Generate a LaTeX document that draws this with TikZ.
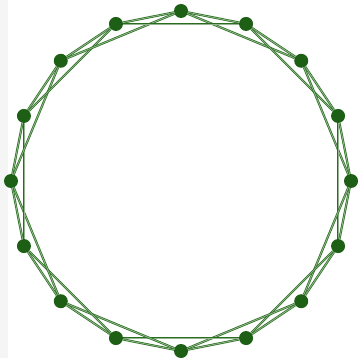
\documentclass[tikz,border=0pt]{standalone}
\definecolor{ndgreen}{RGB}{30,95,22}
\definecolor{edgreen}{RGB}{40,110,30}
\begin{document}
\begin{tikzpicture}[x=1pt,y=-1pt,
  vtx/.style={circle,fill=ndgreen,draw=none,inner sep=0pt,minimum size=14pt},
  edg/.style={draw=edgreen,line width=0.7pt,double=edgreen!50!white,double distance=0.8pt}]
\fill[white] (0,0) rectangle (358,358);
\fill[black!4] (0,0) rectangle (8,358);
\useasboundingbox (0,0) rectangle (358,358);
\foreach \i in {0,...,15}{
  \node[vtx] (v\i) at ({181+170*sin(22.5*\i)},{181-170*cos(22.5*\i)}) {};
}
\foreach \i in {0,...,15}{
  \pgfmathtruncatemacro{\j}{mod(\i+1,16)}
  \pgfmathtruncatemacro{\k}{mod(\i+2,16)}
  \draw[edg] (v\i) -- (v\j);
  \draw[edg] (v\i) -- (v\k);
}
\end{tikzpicture}
\end{document}
